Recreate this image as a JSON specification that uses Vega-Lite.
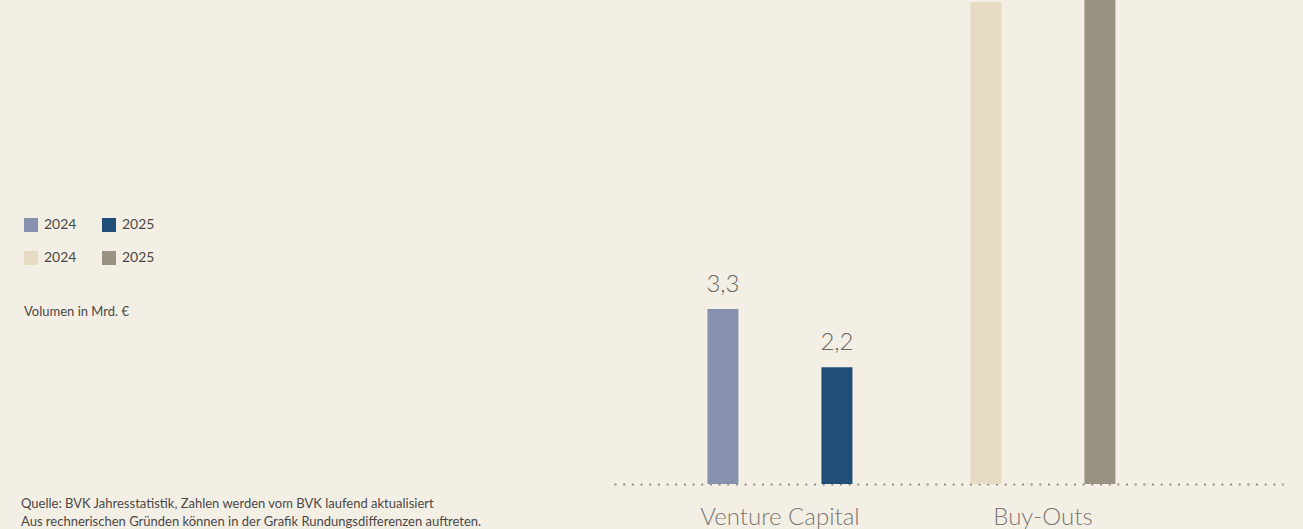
{
  "$schema": "https://vega.github.io/schema/vega-lite/v6.json",
  "width": 669,
  "height": 484,
  "autosize": {"type": "none"},
  "padding": {"left": 614, "top": 0, "right": 20, "bottom": 45},
  "background": "#f4efe5",
  "config": {
    "view": {"stroke": null},
    "font": "Lato",
    "locale": {"number": {"decimal": ",", "thousands": ".", "grouping": [3], "currency": ["", " €"]}}
  },
  "title": {
    "text": ["Quelle: BVK Jahresstatistik, Zahlen werden vom BVK laufend aktualisiert", "Aus rechnerischen Gründen können in der Grafik Rundungsdifferenzen auftreten."],
    "orient": "bottom",
    "anchor": "start",
    "frame": "group",
    "dx": -593,
    "dy": -31,
    "fontSize": 13,
    "fontWeight": "normal",
    "color": "#4a4845",
    "lineHeight": 18,
    "offset": 0
  },
  "data": {
    "values": [
      {"kategorie": "Venture Capital", "jahr": "2024", "serie": "VC 2024", "wert": 3.3},
      {"kategorie": "Venture Capital", "jahr": "2025", "serie": "VC 2025", "wert": 2.2},
      {"kategorie": "Buy-Outs", "jahr": "2024", "serie": "BO 2024", "wert": 9.09},
      {"kategorie": "Buy-Outs", "jahr": "2025", "serie": "BO 2025", "wert": 9.8}
    ]
  },
  "encoding": {
    "x": {
      "field": "kategorie",
      "type": "nominal",
      "sort": ["Venture Capital", "Buy-Outs"],
      "scale": {"paddingInner": 0.4487, "paddingOuter": 0.4962, "align": 0.358},
      "axis": {
        "title": null,
        "labelAngle": 0,
        "ticks": false,
        "labelFontSize": 24,
        "labelFontWeight": 300,
        "labelColor": "#7b7873",
        "labelPadding": 21,
        "domainColor": "#8f8b84",
        "domainWidth": 2,
        "domainDash": [2, 6.67],
        "domainCap": "butt"
      }
    },
    "xOffset": {
      "field": "jahr",
      "type": "nominal",
      "scale": {"paddingInner": 0.728, "paddingOuter": 0}
    },
    "y": {
      "field": "wert",
      "type": "quantitative",
      "scale": {"domain": [0, 9.13], "nice": false, "zero": true},
      "axis": null
    }
  },
  "layer": [
    {
      "mark": {"type": "bar"},
      "encoding": {
        "color": {
          "field": "serie",
          "type": "nominal",
          "scale": {
            "domain": ["VC 2024", "VC 2025", "BO 2024", "BO 2025"],
            "range": ["#8890b0", "#1f4e79", "#e6dcc4", "#9a9384"]
          },
          "legend": {
            "orient": "none",
            "legendX": -590,
            "legendY": 218,
            "columns": 2,
            "direction": "horizontal",
            "symbolType": "square",
            "symbolSize": 196,
            "symbolStrokeWidth": 0,
            "labelExpr": "slice(datum.label, 3)",
            "labelFontSize": 14,
            "labelColor": "#4a4845",
            "labelOffset": 6,
            "columnPadding": 25,
            "rowPadding": 19,
            "title": "Volumen in Mrd. €",
            "titleOrient": "bottom",
            "titleAnchor": "start",
            "titleFontSize": 13,
            "titleFontWeight": "normal",
            "titleColor": "#4a4845",
            "titlePadding": 41
          }
        }
      }
    },
    {
      "transform": [{"filter": "datum.kategorie === 'Venture Capital'"}],
      "mark": {"type": "text", "baseline": "bottom", "dy": -12, "fontSize": 24, "fontWeight": 300, "color": "#6b6863"},
      "encoding": {
        "text": {"field": "wert", "type": "quantitative", "format": ".1f"}
      }
    }
  ]
}
